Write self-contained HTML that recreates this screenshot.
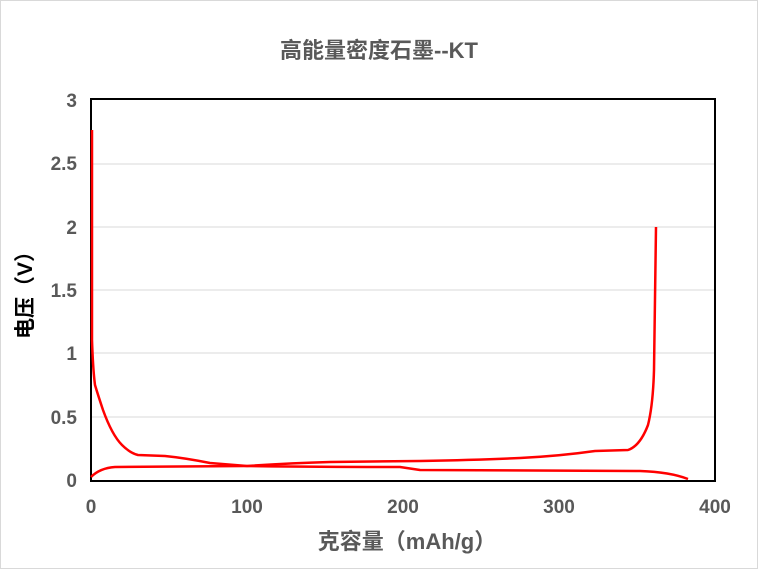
<!DOCTYPE html>
<html><head><meta charset="utf-8"><style>
body{margin:0;background:#fff}
svg text{font-family:"Liberation Sans","Noto Sans CJK SC",sans-serif;font-weight:bold}
</style></head><body>
<svg width="758" height="569" xmlns="http://www.w3.org/2000/svg">
<rect x="0.5" y="0.5" width="757" height="568" fill="#fff" stroke="#d9d9d9"/>
<text x="379" y="58" text-anchor="middle" font-size="22" fill="#595959">高能量密度石墨--KT</text>
<g stroke="#d9d9d9" stroke-width="1">
<line x1="91" y1="164" x2="715" y2="164"/><line x1="91" y1="227" x2="715" y2="227"/>
<line x1="91" y1="290" x2="715" y2="290"/><line x1="91" y1="353" x2="715" y2="353"/>
<line x1="91" y1="417" x2="715" y2="417"/>
</g>
<rect x="91" y="99" width="624" height="382" fill="none" stroke="#000" stroke-width="2"/>
<g font-size="19" fill="#595959" text-anchor="end">
<text x="77" y="107">3</text><text x="77" y="170">2.5</text><text x="77" y="234">2</text>
<text x="77" y="297">1.5</text><text x="77" y="360">1</text><text x="77" y="424">0.5</text><text x="77" y="487">0</text>
</g>
<g font-size="19" fill="#595959" text-anchor="middle">
<text x="91" y="513">0</text><text x="247" y="513">100</text><text x="403" y="513">200</text>
<text x="559" y="513">300</text><text x="715" y="513">400</text>
</g>
<text x="407" y="549" text-anchor="middle" font-size="22" fill="#595959">克容量（mAh/g）</text>
<text transform="translate(32,290) rotate(-90)" text-anchor="middle" font-size="21" fill="#000">电压（V）</text>
<g fill="none" stroke="#ff0000" stroke-width="2.5" stroke-linejoin="round">
<path d="M92,130 L92,340 Q93,370 95,385 Q98,395 103,410 Q112,435 122,445 Q130,453 138,455 L165,456 Q185,458 210,463 L247,466 Q330,467 400,467 L420,470 L640,471 Q670,472 688,479"/>
<path d="M91,477 Q100,468 115,467 L247,466 Q290,463 330,462 L420,461 Q480,460 520,458 Q560,456 595,451 L628,450 Q640,446 648,425 Q653,405 654,370 L656,227"/>
</g>
</svg>
</body></html>
